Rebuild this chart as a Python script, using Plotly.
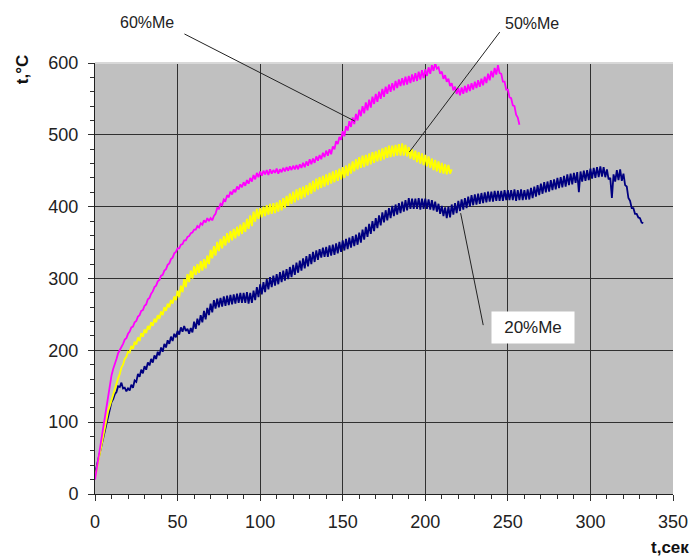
import plotly.graph_objects as go

# time samples (s), one per second
t_60 = list(range(0, 258))
t_50 = list(range(0, 217))
t_20 = list(range(0, 333))

# 60%Me temperature (°C)
temp_60 = [20, 35, 48, 62, 76, 91, 105, 121, 137, 152,
           165, 174, 180, 188, 196, 200, 206, 209, 215, 217,
           223, 226, 232, 233, 239, 241, 247, 249, 255, 256,
           262, 264, 271, 273, 279, 282, 288, 290, 296, 298,
           304, 305, 311, 313, 319, 321, 327, 329, 335, 337,
           342, 342, 347, 348, 353, 353, 358, 359, 363, 364,
           368, 368, 373, 371, 377, 375, 381, 378, 384, 380,
           384, 381, 387, 390, 398, 397, 404, 402, 410, 408,
           416, 413, 421, 417, 424, 420, 428, 424, 431, 427,
           434, 429, 437, 432, 440, 435, 444, 438, 447, 441,
           449, 443, 450, 445, 451, 444, 452, 446, 451, 447,
           453, 446, 452, 448, 454, 449, 455, 450, 456, 451,
           457, 452, 458, 452, 459, 454, 461, 455, 463, 457,
           466, 459, 467, 461, 470, 464, 472, 466, 475, 469,
           478, 471, 480, 473, 484, 480, 491, 487, 497, 493,
           505, 498, 512, 506, 519, 511, 524, 515, 529, 520,
           535, 526, 540, 530, 545, 534, 549, 538, 553, 543,
           557, 546, 560, 550, 564, 553, 567, 557, 570, 560,
           572, 562, 575, 565, 577, 568, 579, 569, 581, 570,
           582, 572, 584, 574, 586, 575, 588, 577, 590, 579,
           591, 582, 594, 585, 597, 589, 600, 592, 594, 585,
           588, 578, 583, 574, 578, 568, 572, 562, 567, 557,
           565, 555, 566, 557, 568, 559, 570, 561, 572, 563,
           574, 565, 576, 567, 578, 569, 581, 572, 585, 576,
           589, 580, 593, 584, 597, 586, 585, 574, 574, 563,
           563, 552, 551, 541, 540, 528, 524, 514]

# 50%Me temperature (°C)
temp_50 = [22, 34, 46, 58, 71, 82, 95, 105, 116, 123,
           131, 137, 146, 152, 161, 167, 176, 180, 188, 191,
           198, 197, 206, 202, 212, 208, 218, 213, 224, 219,
           229, 224, 234, 229, 239, 234, 244, 239, 249, 244,
           254, 249, 260, 255, 265, 260, 270, 265, 275, 270,
           283, 274, 290, 281, 299, 288, 306, 295, 311, 300,
           317, 305, 320, 308, 324, 311, 327, 314, 332, 320,
           340, 328, 345, 332, 351, 338, 355, 342, 359, 346,
           363, 350, 366, 353, 369, 356, 372, 359, 375, 362,
           378, 365, 383, 369, 388, 373, 393, 379, 397, 383,
           398, 385, 400, 387, 402, 389, 404, 390, 405, 391,
           406, 393, 409, 395, 412, 398, 415, 401, 418, 404,
           421, 406, 424, 409, 426, 411, 428, 413, 430, 416,
           433, 418, 436, 421, 439, 424, 441, 426, 443, 428,
           445, 430, 447, 432, 449, 434, 451, 436, 453, 438,
           455, 440, 457, 443, 460, 446, 463, 449, 466, 452,
           469, 454, 471, 455, 472, 457, 474, 459, 476, 461,
           477, 463, 479, 464, 481, 466, 483, 468, 485, 469,
           485, 470, 486, 471, 487, 471, 488, 471, 486, 470,
           483, 467, 480, 465, 478, 462, 476, 460, 474, 458,
           472, 456, 470, 454, 467, 451, 465, 449, 463, 447,
           461, 446, 459, 445, 458, 446, 452]

# 20%Me temperature (°C)
temp_20 = [28, 38, 50, 61, 70, 80, 91, 100, 110, 119,
           128, 132, 139, 142, 150, 149, 155, 147, 148, 143,
           147, 144, 152, 148, 158, 156, 167, 163, 173, 168,
           178, 173, 183, 179, 188, 183, 193, 188, 198, 193,
           204, 198, 209, 204, 214, 209, 219, 213, 223, 218,
           227, 222, 232, 226, 234, 227, 230, 223, 231, 225,
           240, 230, 244, 235, 249, 239, 255, 243, 259, 249,
           265, 253, 270, 258, 272, 260, 273, 261, 275, 262,
           276, 263, 277, 264, 278, 265, 279, 266, 280, 266,
           280, 266, 281, 265, 280, 266, 283, 270, 288, 274,
           292, 278, 295, 281, 299, 285, 302, 288, 304, 290,
           306, 292, 309, 295, 311, 297, 313, 299, 316, 302,
           319, 305, 322, 308, 325, 311, 328, 314, 331, 317,
           334, 320, 337, 323, 339, 326, 341, 329, 343, 330,
           344, 330, 346, 332, 347, 333, 349, 335, 351, 337,
           353, 339, 355, 341, 357, 343, 359, 345, 361, 347,
           364, 350, 368, 354, 372, 358, 376, 362, 380, 366,
           384, 370, 388, 374, 392, 378, 395, 381, 398, 384,
           401, 387, 403, 389, 405, 391, 407, 393, 409, 395,
           412, 397, 411, 397, 411, 397, 412, 396, 411, 397,
           411, 397, 410, 396, 409, 395, 407, 393, 404, 390,
           401, 387, 399, 384, 400, 385, 403, 389, 405, 391,
           408, 394, 410, 396, 412, 398, 414, 400, 416, 402,
           417, 403, 418, 404, 419, 405, 420, 406, 421, 407,
           421, 407, 422, 408, 422, 408, 422, 408, 423, 409,
           423, 409, 423, 409, 424, 408, 423, 409, 424, 409,
           423, 410, 424, 410, 426, 412, 428, 414, 430, 416,
           432, 418, 434, 420, 435, 421, 437, 423, 438, 424,
           440, 426, 441, 427, 443, 428, 445, 430, 446, 431,
           447, 433, 448, 420, 449, 435, 450, 436, 451, 437,
           453, 439, 454, 440, 455, 441, 456, 442, 455, 441,
           452, 438, 440, 412, 445, 435, 451, 437, 452, 436,
           446, 430, 428, 412, 408, 398, 398, 390, 390, 385,
           384, 378, 377]

x_ticks = [0, 50, 100, 150, 200, 250, 300, 350]
y_ticks = [0, 100, 200, 300, 400, 500, 600]

FONT = "Liberation Sans, Arial, sans-serif"
LBL = dict(size=16, color="#222222")

fig = go.Figure()
fig.add_trace(go.Scatter(x=t_20, y=temp_20, mode="lines", line=dict(color="#000080", width=1.8), name="20%Me"))
fig.add_trace(go.Scatter(x=t_50, y=temp_50, mode="lines", line=dict(color="#FFFF00", width=1.9), name="50%Me"))
fig.add_trace(go.Scatter(x=t_60, y=temp_60, mode="lines", line=dict(color="#FF00FF", width=1.8), name="60%Me"))

fig.update_layout(
    width=692, height=548,
    margin=dict(l=87, r=21, t=55, b=62),
    paper_bgcolor="white",
    plot_bgcolor="#C0C0C0",
    showlegend=False,
    font=dict(family=FONT, size=18, color="#222222"),
    xaxis=dict(range=[0, 350], tickvals=x_ticks, ticktext=[str(v) for v in x_ticks],
               showgrid=True, gridcolor="#303030", gridwidth=1,
               showline=True, linecolor="#202020", linewidth=1,
               ticks="outside", ticklen=6, tickcolor="#303030", ticklabelstandoff=5,
               minor=dict(dtick=10, ticks="outside", ticklen=4, tickcolor="#303030", showgrid=False),
               zeroline=False, fixedrange=True),
    yaxis=dict(range=[0, 600], tickvals=y_ticks, ticktext=[str(v) for v in y_ticks],
               showgrid=True, gridcolor="#303030", gridwidth=1,
               showline=True, linecolor="#202020", linewidth=1,
               ticks="outside", ticklen=6, tickcolor="#303030", ticklabelstandoff=6,
               minor=dict(dtick=20, ticks="outside", ticklen=4, tickcolor="#303030", showgrid=False),
               zeroline=False, fixedrange=True),
)

# light top border of plot area
fig.add_shape(type="line", xref="paper", yref="paper", x0=0, x1=1, y0=1, y1=1,
              line=dict(color="#D8D8D8", width=2), layer="above")

# leader lines (tail offsets in pixels from the pointed data location)
for (px, py, ax, ay) in [(157.4, 519, -172, -88), (190.3, 476, 92, -122), (221.4, 391, 23, 114)]:
    fig.add_annotation(x=px, y=py, text=" ", font=dict(size=1), showarrow=True, arrowhead=0,
                       arrowwidth=1, arrowcolor="#222222", ax=ax, ay=ay, standoff=0, startstandoff=0)

# series labels
fig.add_annotation(xref="paper", yref="paper", x=0.0897, y=1.094, text="60%Me", showarrow=False,
                   xanchor="center", yanchor="middle", font=LBL)
fig.add_annotation(xref="paper", yref="paper", x=0.7556, y=1.0905, text="50%Me", showarrow=False,
                   xanchor="center", yanchor="middle", font=LBL)
fig.add_annotation(xref="paper", yref="paper", x=0.757, y=0.386, text="20%Me", showarrow=False,
                   xanchor="center", yanchor="middle", bgcolor="white", borderpad=6, width=70,
                   font=dict(size=17, color="#222222"))

# axis titles
fig.add_annotation(xref="paper", yref="paper", x=-0.125, y=0.985, text="<b>t,°C</b>",
                   showarrow=False, textangle=-90, xanchor="center", yanchor="middle",
                   font=dict(size=17, color="#111111"))
fig.add_annotation(xref="paper", yref="paper", x=1.031, y=-0.125, text="<b>t,сек</b>",
                   showarrow=False, xanchor="right", yanchor="middle",
                   font=dict(size=17, color="#111111"))

fig.write_html("out.html")
